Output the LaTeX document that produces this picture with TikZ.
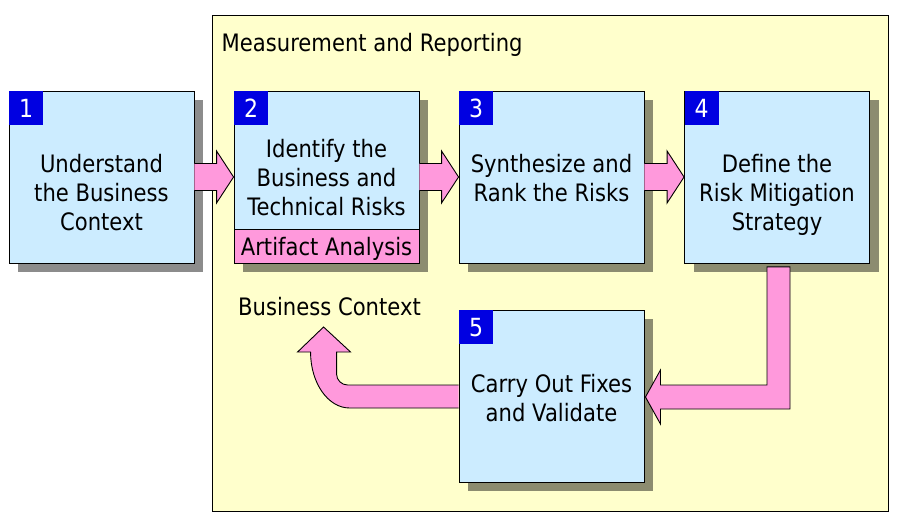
\documentclass[tikz,border=0pt]{standalone}
\usepackage{fontspec}
\setmainfont{DejaVu Sans}[FakeStretch=0.88]
\usetikzlibrary{calc,shadows}
\definecolor{boxblue}{RGB}{204,236,255}
\definecolor{arrowpink}{RGB}{255,153,220}
\definecolor{numblue}{RGB}{0,0,225}
\definecolor{panelyellow}{RGB}{255,255,204}
\newcommand\harrow[2]{\draw[blockarrow] let \p1=(#1.east), \p2=(#2.west) in
  (\x1,\y1+13.5) -- (\x2-17,\y1+13.5) -- (\x2-17,\y1+26) -- (\x2,\y1) --
  (\x2-17,\y1-26) -- (\x2-17,\y1-13.5) -- (\x1,\y1-13.5);}
\begin{document}
\begin{tikzpicture}[x=1pt,y=1pt,
  stepbox/.style={draw=black,line width=0.9pt,fill=boxblue,minimum width=185pt,
    minimum height=172pt,inner sep=0pt,
    drop shadow={shadow xshift=9pt,shadow yshift=-9pt,opacity=.45,fill=black}},
  numbox/.style={fill=numblue,text=white,minimum width=34pt,minimum height=34pt,
    inner sep=0pt,anchor=north west,font=\fontsize{25}{30}\selectfont},
  steptext/.style={align=center,inner sep=0pt,font=\fontsize{24}{29}\selectfont,
    execute at begin node=\strut,execute at end node=\strut},
  plaintext/.style={inner sep=0pt,font=\fontsize{24}{29}\selectfont},
  blockarrow/.style={draw=black,line width=0.9pt,fill=arrowpink,line join=miter},
]
\useasboundingbox (0,0) rectangle (899,520);
\node[draw=black,line width=0.9pt,fill=panelyellow,minimum width=676pt,
  minimum height=496.3pt,inner sep=0pt,anchor=south west] (panel) at (211.5,8) {};
\node[plaintext,anchor=base west] (title) at (221.5,468.3) {Measurement and Reporting};

\node[stepbox] (b1) at (101.5,343) {};
\node[stepbox] (b2) at (326.5,343) {};
\node[stepbox] (b3) at (551.5,343) {};
\node[stepbox] (b4) at (777,343) {};
\node[stepbox] (b5) at (551.5,124) {};

\node[draw=black,line width=0.9pt,fill=arrowpink,minimum width=185pt,minimum height=34pt,
  inner sep=0pt,anchor=south] (s2) at (b2.south) {};
\node[steptext] (a2) at (326.5,270) {Artifact Analysis};

\node[numbox] (n1) at ($(b1.north west)+(0.45,-0.45)$) {1};
\node[numbox] (n2) at ($(b2.north west)+(0.45,-0.45)$) {2};
\node[numbox] (n3) at ($(b3.north west)+(0.45,-0.45)$) {3};
\node[numbox] (n4) at ($(b4.north west)+(0.45,-0.45)$) {4};
\node[numbox] (n5) at ($(b5.north west)+(0.45,-0.45)$) {5};

\node[steptext] (t1) at (101.5,323.5) {Understand\\the Business\\Context};
\node[steptext] (t2) at (326.5,338.5) {Identify the\\Business and\\Technical Risks};
\node[steptext] (t3) at (551.5,338) {Synthesize and\\Rank the Risks};
\node[steptext] (t4) at (777,323.5) {Define the\\Risk Mitigation\\Strategy};
\node[steptext] (t5) at (551.5,118) {Carry Out Fixes\\and Validate};

\node[plaintext,anchor=base] (bc) at (329.5,204.5) {Business Context};

\harrow{b1}{b2}
\harrow{b2}{b3}
\harrow{b3}{b4}

\draw[blockarrow] let \p1=(b4.south), \p2=(b5.east) in
  (\x1-10,\y1-3.5) -- (\x1+13,\y1-3.5) -- (\x1+13,\y2-13) -- (\x2+16,\y2-13) --
  (\x2+16,\y2-28) -- (\x2+1,\y2-1) -- (\x2+16,\y2+26) -- (\x2+16,\y2+11) --
  (\x1-10,\y2+11) -- cycle;

\draw[blockarrow] let \p1=(b5.west) in
  (\x1,\y1+11) -- (\x1-111,\y1+11) .. controls (\x1-117,\y1+11) and (\x1-122,\y1+16) ..
  (\x1-122,\y1+22) -- (\x1-122,\y1+44) -- (\x1-108,\y1+44) -- (\x1-135,\y1+69) --
  (\x1-161,\y1+44) -- (\x1-148,\y1+44) .. controls (\x1-148,\y1+13) and (\x1-130.5,\y1-12) ..
  (\x1-109,\y1-12) -- (\x1,\y1-12);
\end{tikzpicture}
\end{document}
